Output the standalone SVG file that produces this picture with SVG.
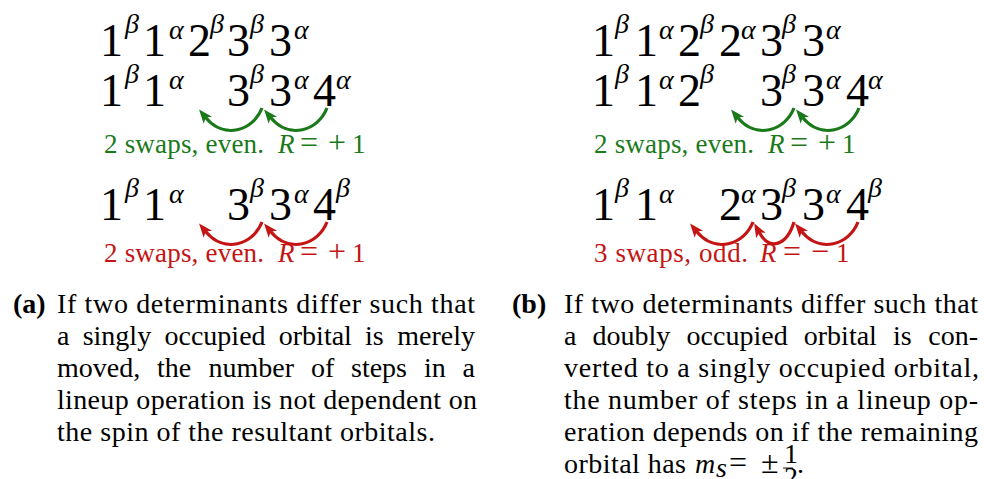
<svg xmlns="http://www.w3.org/2000/svg" width="984" height="479" viewBox="0 0 984 479">
<style>
text{font-family:"Liberation Serif","Times New Roman",Tinos,"DejaVu Serif",serif}
.d{font-size:46px;fill:#000}
.s{font-style:italic;font-size:28px}
.cap{font-size:28px;fill:#000}
.bd{font-weight:bold}
.lab{font-size:27px}
.op{font-size:32px}
.it{font-style:italic}
.g{fill:#1a7a1a}
.r{fill:#c41414}
.ag{fill:none;stroke:#1a7a1a;stroke-width:3.2;marker-end:url(#hg)}
.ar{fill:none;stroke:#c41414;stroke-width:3.2;marker-end:url(#hr)}
</style>
<defs>
<marker id="hg" markerUnits="userSpaceOnUse" markerWidth="14" markerHeight="11" viewBox="0 0 14 11" refX="4" refY="5.5" orient="auto"><path d="M0,0 L14,5.5 L0,11 L3.5,5.5 z" fill="#1a7a1a"/></marker>
<marker id="hr" markerUnits="userSpaceOnUse" markerWidth="14" markerHeight="11" viewBox="0 0 14 11" refX="4" refY="5.5" orient="auto"><path d="M0,0 L14,5.5 L0,11 L3.5,5.5 z" fill="#c41414"/></marker>
</defs>
<rect width="984" height="479" fill="#fff"/>

<g id="panel-a">
<g id="a-ref"><text class="d"><tspan x="100" y="56">1</tspan><tspan class="s" x="125" y="33">β</tspan><tspan x="143" y="56">1</tspan><tspan class="s" x="169" y="39">α</tspan><tspan x="188" y="56">2</tspan><tspan class="s" x="210" y="33">β</tspan><tspan x="227" y="56">3</tspan><tspan class="s" x="250" y="33">β</tspan><tspan x="269" y="56">3</tspan><tspan class="s" x="294" y="39">α</tspan></text></g>
<g id="a-alpha"><text class="d"><tspan x="100" y="106">1</tspan><tspan class="s" x="125" y="83">β</tspan><tspan x="143" y="106">1</tspan><tspan class="s" x="169" y="89">α</tspan><tspan x="227" y="106">3</tspan><tspan class="s" x="250" y="83">β</tspan><tspan x="269" y="106">3</tspan><tspan class="s" x="294" y="89">α</tspan><tspan x="313" y="106">4</tspan><tspan class="s" x="336" y="89">α</tspan></text></g>
<g id="a-alpha-label"><text class="lab g" x="104" y="153" textLength="160" lengthAdjust="spacing">2 swaps, even.</text><text class="lab g it" x="278" y="153">R</text><text class="op g" x="300" y="153">=</text><text class="op g" x="328" y="153">+</text><text class="lab g" x="352" y="153">1</text></g>
<g id="a-beta"><text class="d"><tspan x="100" y="220">1</tspan><tspan class="s" x="125" y="197">β</tspan><tspan x="143" y="220">1</tspan><tspan class="s" x="169" y="203">α</tspan><tspan x="227" y="220">3</tspan><tspan class="s" x="250" y="197">β</tspan><tspan x="269" y="220">3</tspan><tspan class="s" x="294" y="203">α</tspan><tspan x="313" y="220">4</tspan><tspan class="s" x="336" y="197">β</tspan></text></g>
<g id="a-beta-label"><text class="lab r" x="104" y="262" textLength="160" lengthAdjust="spacing">2 swaps, even.</text><text class="lab r it" x="278" y="262">R</text><text class="op r" x="300" y="262">=</text><text class="op r" x="328" y="262">+</text><text class="lab r" x="352" y="262">1</text></g>
<g id="a-caption">
<text class="cap bd" x="13" y="313">(a)</text>
<text class="cap" x="57" y="313" textLength="418" lengthAdjust="spacing">If two determinants differ such that</text>
<text class="cap" y="345"><tspan x="57">a</tspan><tspan x="82.7">singly</tspan><tspan x="164.5">occupied</tspan><tspan x="278.8">orbital</tspan><tspan x="365">is</tspan></text>
<text class="cap" x="475" y="345" text-anchor="end">merely</text>
<text class="cap" y="377"><tspan x="57">moved,</tspan><tspan x="157">the</tspan><tspan x="208.5">number</tspan><tspan x="311">of</tspan><tspan x="351">steps</tspan><tspan x="424">in</tspan></text>
<text class="cap" x="475" y="377" text-anchor="end">a</text>
<text class="cap" x="57" y="409" textLength="420" lengthAdjust="spacing">lineup operation is not dependent on</text>
<text class="cap" x="57" y="441" textLength="378" lengthAdjust="spacing">the spin of the resultant orbitals.</text>
</g>
</g>

<g id="panel-b">
<g id="b-ref"><text class="d"><tspan x="592" y="56">1</tspan><tspan class="s" x="615" y="33">β</tspan><tspan x="635" y="56">1</tspan><tspan class="s" x="659" y="39">α</tspan><tspan x="678" y="56">2</tspan><tspan class="s" x="700" y="33">β</tspan><tspan x="719" y="56">2</tspan><tspan class="s" x="741" y="39">α</tspan><tspan x="760" y="56">3</tspan><tspan class="s" x="782" y="33">β</tspan><tspan x="802" y="56">3</tspan><tspan class="s" x="826" y="39">α</tspan></text></g>
<g id="b-alpha"><text class="d"><tspan x="592" y="106">1</tspan><tspan class="s" x="615" y="83">β</tspan><tspan x="635" y="106">1</tspan><tspan class="s" x="659" y="89">α</tspan><tspan x="678" y="106">2</tspan><tspan class="s" x="700" y="83">β</tspan><tspan x="760" y="106">3</tspan><tspan class="s" x="782" y="83">β</tspan><tspan x="802" y="106">3</tspan><tspan class="s" x="826" y="89">α</tspan><tspan x="846" y="106">4</tspan><tspan class="s" x="868" y="89">α</tspan></text></g>
<g id="b-alpha-label"><text class="lab g" x="594" y="153" textLength="160" lengthAdjust="spacing">2 swaps, even.</text><text class="lab g it" x="768" y="153">R</text><text class="op g" x="790" y="153">=</text><text class="op g" x="818" y="153">+</text><text class="lab g" x="842" y="153">1</text></g>
<g id="b-beta"><text class="d"><tspan x="592" y="220">1</tspan><tspan class="s" x="615" y="197">β</tspan><tspan x="635" y="220">1</tspan><tspan class="s" x="659" y="203">α</tspan><tspan x="719" y="220">2</tspan><tspan class="s" x="741" y="203">α</tspan><tspan x="760" y="220">3</tspan><tspan class="s" x="782" y="197">β</tspan><tspan x="802" y="220">3</tspan><tspan class="s" x="826" y="203">α</tspan><tspan x="846" y="220">4</tspan><tspan class="s" x="868" y="197">β</tspan></text></g>
<g id="b-beta-label"><text class="lab r" x="594" y="262" textLength="154" lengthAdjust="spacing">3 swaps, odd.</text><text class="lab r it" x="760" y="262">R</text><text class="op r" x="783" y="262">=</text><text class="op r" x="811" y="262">−</text><text class="lab r" x="836" y="262">1</text></g>
<g id="b-caption">
<text class="cap bd" x="512" y="313">(b)</text>
<text class="cap" x="564" y="313" textLength="414" lengthAdjust="spacing">If two determinants differ such that</text>
<text class="cap" y="345"><tspan x="564">a</tspan><tspan x="592.6">doubly</tspan><tspan x="686.6">occupied</tspan><tspan x="803.8">orbital</tspan><tspan x="893">is</tspan></text>
<text class="cap" x="978" y="345" text-anchor="end">con-</text>
<text class="cap" x="564" y="377" textLength="415" lengthAdjust="spacing">verted to a singly occupied orbital,</text>
<text class="cap" x="564" y="409" textLength="414" lengthAdjust="spacing">the number of steps in a lineup op-</text>
<text class="cap" x="564" y="441" textLength="414" lengthAdjust="spacing">eration depends on if the remaining</text>
<text class="cap" x="564" y="473" textLength="122" lengthAdjust="spacing">orbital has</text>
<text class="cap it" x="695" y="473">m</text>
<text class="s" x="716" y="476.5" font-size="16">s</text>
<text class="op" x="729" y="473" font-size="29">=</text>
<text class="op" x="761" y="473" font-size="29">±</text>
<text class="cap" x="784" y="463" font-size="15">1</text>
<line x1="783" y1="468" x2="793" y2="468" stroke="#000" stroke-width="0.9"/>
<text class="cap" x="784" y="486" font-size="15">2</text>
<text class="cap" x="797" y="473">.</text>
</g>
</g>

<g id="connectors">
<path class="ag" d="M262,108 C253,131 224,140 205.4,117.2"/>
<path class="ag" d="M327,108 C318,131 289,140 270.4,117.2"/>
<path class="ar" d="M262,222 C253,245 224,254 205.4,231.2"/>
<path class="ar" d="M327,222 C318,245 289,254 270.4,231.2"/>
<path class="ag" d="M794,108 C785,131 756,140 737.4,117.2"/>
<path class="ag" d="M859,108 C850,131 821,140 802.4,117.2"/>
<path class="ar" d="M753,222 C744,245 715,254 696.4,231.2"/>
<path class="ar" d="M794,222 C787,245 770,252 759,232"/>
<path class="ar" d="M858,222 C849,245 820,254 801.4,231.2"/>
</g>
</svg>
